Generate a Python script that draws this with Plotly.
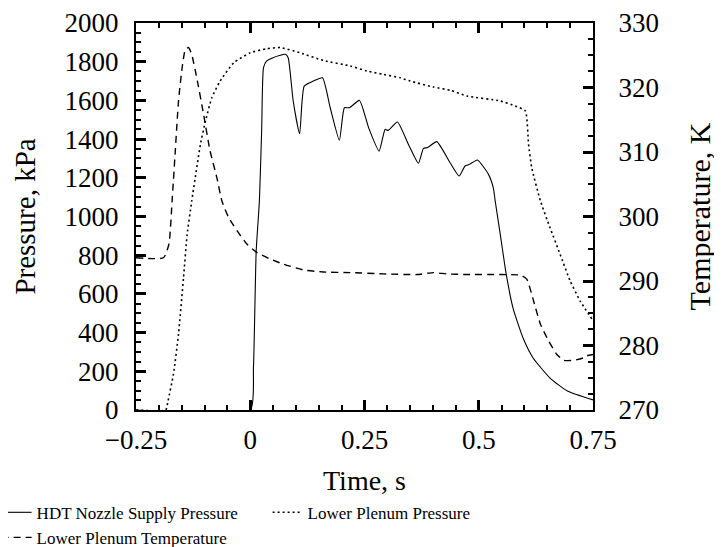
import plotly.graph_objects as go

# HDT nozzle supply pressure (kPa) against time (s)
t_nozzle = [-0.25, 0.0, 0.007, 0.013, 0.020, 0.025, 0.029, 0.036, 0.050,
            0.077, 0.083, 0.094, 0.108, 0.118, 0.138, 0.158, 0.175, 0.195,
            0.206, 0.217, 0.239, 0.259, 0.282, 0.295, 0.302, 0.322, 0.346,
            0.368, 0.379, 0.388, 0.408, 0.438, 0.457, 0.470, 0.481, 0.497,
            0.521, 0.532, 0.536, 0.547, 0.560, 0.575, 0.597, 0.619, 0.656,
            0.694, 0.750]
p_nozzle = [0, 0, 219, 822, 1080, 1450, 1769, 1804, 1821,
            1838, 1820, 1597, 1428, 1674, 1700, 1717, 1562, 1394,
            1562, 1562, 1600, 1459, 1338, 1450, 1445, 1488, 1373,
            1275, 1352, 1356, 1387, 1275, 1209, 1261, 1271, 1292,
            1219, 1147, 1080, 909, 703, 527, 372, 269, 165,
            98, 52]

# Lower plenum pressure (kPa)
t_plenum_p = [-0.25, -0.185, -0.18, -0.168, -0.157, -0.146, -0.138, -0.128,
              -0.109, -0.098, -0.084, -0.066, -0.036, 0.0, 0.036, 0.066,
              0.109, 0.160, 0.219, 0.255, 0.292, 0.328, 0.350, 0.401, 0.438,
              0.474, 0.547, 0.580, 0.602, 0.609, 0.616, 0.635, 0.656, 0.678,
              0.700, 0.722, 0.748]
p_plenum = [0, 0, 46, 186, 392, 684, 909, 1080,
            1373, 1493, 1614, 1700, 1795, 1846, 1867, 1873,
            1846, 1806, 1778, 1752, 1734, 1717, 1700, 1669, 1652,
            1623, 1597, 1571, 1545, 1373, 1252, 1080, 942, 805,
            667, 563, 469]

# Lower plenum temperature (K)
t_plenum_t = [-0.25, -0.19, -0.178, -0.171, -0.164, -0.157, -0.149, -0.142,
              -0.135, -0.128, -0.117, -0.102, -0.088, -0.073, -0.062, -0.047,
              -0.029, -0.007, 0.015, 0.044, 0.073, 0.117, 0.160, 0.219,
              0.292, 0.365, 0.401, 0.430, 0.474, 0.547, 0.591, 0.605, 0.620,
              0.635, 0.653, 0.671, 0.686, 0.708, 0.730, 0.737, 0.750]
temp_plenum = [293.6, 293.6, 295.7, 302.4, 310.2, 317.9, 323.1, 325.9,
               326.2, 325.1, 321.5, 315.8, 310.2, 306.0, 302.4, 299.8,
               297.8, 295.7, 294.4, 293.4, 292.6, 291.7, 291.4, 291.3,
               291.1, 291.0, 291.3, 291.1, 291.0, 291.0, 290.9, 290.3, 286.9,
               283.3, 280.7, 278.6, 277.7, 277.7, 278.1, 278.4, 278.6]

x_ticks = [-0.25, 0, 0.25, 0.5, 0.75]
x_labels = ['\u22120.25', '0', '0.25', '0.5', '0.75']

FONT = 'Liberation Serif'

fig = go.Figure()
fig.add_trace(go.Scatter(x=t_nozzle, y=p_nozzle, mode='lines',
                         name='HDT Nozzle Supply Pressure',
                         line=dict(color='black', width=1.1,
                                   shape='spline', smoothing=0.5)))
fig.add_trace(go.Scatter(x=t_plenum_p, y=p_plenum, mode='lines',
                         name='Lower Plenum Pressure',
                         line=dict(color='black', width=1.6, dash='2px,3px',
                                   shape='spline', smoothing=0.5)))
fig.add_trace(go.Scatter(x=t_plenum_t, y=temp_plenum, mode='lines',
                         name='Lower Plenum Temperature', yaxis='y2',
                         line=dict(color='black', width=1.4, dash='7px,5px',
                                   shape='spline', smoothing=0.5)))

# thin ticks did not show up in the render, so they are drawn heavier
axis_common = dict(showline=True, linecolor='black', linewidth=2,
                   ticks='inside', tickcolor='black', ticklen=10, tickwidth=3,
                   showgrid=False, zeroline=False, automargin=False,
                   tickfont=dict(family=FONT, size=27, color='black'))
minor_ticks = dict(ticks='inside', ticklen=5, tickcolor='black', tickwidth=2)

# the page body has an 8px margin, so the figure is placed 8px in
fig.update_layout(
    width=714, height=539,
    margin=dict(l=128, r=129, t=15, b=137, autoexpand=False),
    paper_bgcolor='white', plot_bgcolor='white',
    font=dict(family=FONT, color='black'),
    xaxis=dict(range=[-0.25, 0.75], tickmode='array', tickvals=x_ticks,
               ticktext=x_labels, mirror='ticks', ticklabelstandoff=5,
               minor=dict(dtick=0.05, **minor_ticks),
               title=dict(text='Time, s', standoff=16,
                          font=dict(family=FONT, size=28)),
               **axis_common),
    yaxis=dict(range=[0, 2000], dtick=200, ticklabelstandoff=10,
               minor=dict(dtick=50, **minor_ticks),
               title=dict(text='Pressure, kPa', standoff=20,
                          font=dict(family=FONT, size=29)),
               **axis_common),
    yaxis2=dict(range=[270, 330], dtick=10, overlaying='y', side='right',
                ticklabelstandoff=18,
                minor=dict(dtick=2.5, **minor_ticks),
                title=dict(text='Temperature, K', standoff=31,
                           font=dict(family=FONT, size=30)),
                **axis_common),
    legend=dict(orientation='h', x=-0.305, xanchor='left',
                y=-0.219, yanchor='top', entrywidth=226,
                entrywidthmode='pixels', tracegroupgap=0,
                font=dict(family=FONT, size=17, color='black'),
                bgcolor='rgba(0,0,0,0)'),
)

fig.write_html("out.html")
